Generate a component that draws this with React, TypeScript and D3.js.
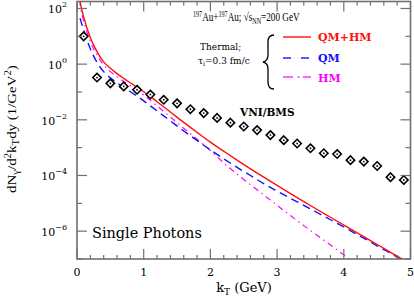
import React, { useLayoutEffect, useRef, useState } from "react";
import * as d3 from "d3";

// ---- data ----
const kRed = [0.04, 0.05, 0.1, 0.2, 0.3, 0.4, 0.5, 0.6, 0.7, 0.8, 0.9, 1.0, 1.2, 1.4, 1.6, 1.8, 2.0, 2.2, 2.4, 2.6, 2.8, 3.0, 3.2, 3.4, 3.6, 3.8, 4.0, 4.2, 4.4, 4.6, 4.8, 4.9];
const qmhm = [224, 158, 50, 8.9, 2.8, 1.2, 0.71, 0.457, 0.309, 0.214, 0.148, 0.102, 0.0447, 0.0191, 8.1e-3, 3.55e-3, 1.58e-3, 7.4e-4, 3.55e-4, 1.74e-4, 8.7e-5, 4.4e-5, 2.24e-5, 1.15e-5, 6.0e-6, 3.16e-6, 1.66e-6, 8.7e-7, 4.6e-7, 2.4e-7, 1.26e-7, 9.1e-8];

const kBlue = [0.045, 0.1, 0.2, 0.3, 0.4, 0.5, 0.6, 0.7, 0.8, 0.9, 1.0, 1.2, 1.4, 1.6, 1.8, 2.0, 2.2, 2.4, 2.6, 2.8, 3.0, 3.2, 3.4, 3.6, 3.8, 4.0, 4.2, 4.4, 4.6, 4.8, 4.9];
const qm = [45, 16.6, 3.55, 1.15, 0.54, 0.32, 0.214, 0.148, 0.102, 0.0708, 0.0479, 0.0209, 9.1e-3, 3.98e-3, 1.82e-3, 8.3e-4, 3.98e-4, 1.95e-4, 1.0e-4, 5.1e-5, 2.75e-5, 1.51e-5, 8.5e-6, 4.68e-6, 2.57e-6, 1.41e-6, 7.6e-7, 4.07e-7, 2.19e-7, 1.17e-7, 8.5e-8];

const kMag = [0.04, 0.05, 0.1, 0.2, 0.3, 0.4, 0.5, 0.6, 0.7, 0.8, 0.9, 1.0, 1.2, 1.4, 1.6, 1.8, 2.0, 2.2, 2.4, 2.6, 2.8, 3.0, 3.2, 3.4, 3.6, 3.8, 4.0, 4.2];
const hm = [200, 126, 35.5, 6.6, 2.09, 0.93, 0.54, 0.355, 0.24, 0.166, 0.115, 0.0776, 0.0316, 0.0126, 5.0e-3, 2.0e-3, 7.9e-4, 2.82e-4, 1.12e-4, 4.68e-5, 2.0e-5, 8.5e-6, 3.63e-6, 1.58e-6, 7.1e-7, 3.16e-7, 1.41e-7, 6.3e-8];

const kVni = [0.1, 0.3, 0.5, 0.7, 0.9, 1.1, 1.3, 1.5, 1.7, 1.9, 2.1, 2.3, 2.5, 2.7, 2.9, 3.1, 3.3, 3.5, 3.7, 3.9, 4.1, 4.3, 4.5, 4.7, 4.9];
const vni = [10, 0.33, 0.204, 0.158, 0.12, 0.081, 0.0525, 0.039, 0.024, 0.0174, 0.0117, 7.9e-3, 5.75e-3, 4.27e-3, 2.82e-3, 1.86e-3, 1.41e-3, 9.5e-4, 6.3e-4, 5.9e-4, 3.55e-4, 3.16e-4, 2.19e-4, 8.7e-5, 6.9e-5];
const vniErrLo = [null, null, null, null, null, null, null, null, null, null, null, null, null, null, null, null, null, null, null, null, null, null, null, 5.9e-5, 4.7e-5];
const vniErrHi = [null, null, null, null, null, null, null, null, null, null, null, null, null, null, null, null, null, null, null, null, null, null, null, 1.25e-4, 1.0e-4];

const xMajor = [0, 1, 2, 3, 4, 5];
const yExps = [-7, -6, -5, -4, -3, -2, -1, 0, 1, 2];
const yLabelExps = [2, 0, -2, -4, -6];

const W = 414, H = 298;
const L = 77, R = 410.5, T = 1.5, B = 259;
const serif = "DejaVu Serif";
const times = "Liberation Serif";

function FitText(props: { x: number; y: number; width: number; rotate?: number; fontSize: number; family?: string; children: React.ReactNode }) {
  const ref = useRef<SVGTextElement>(null);
  const [s, setS] = useState(1);
  useLayoutEffect(() => {
    if (ref.current) {
      const w = ref.current.getBBox().width;
      if (w > 0) setS(props.width / w);
    }
  }, [props.width]);
  return (
    <g transform={`translate(${props.x},${props.y}) rotate(${props.rotate || 0}) scale(${s},1)`}>
      <text ref={ref} x={0} y={0} fontFamily={props.family || serif} fontSize={props.fontSize}>
        {props.children}
      </text>
    </g>
  );
}

export default function App() {
  const x = d3.scaleLinear().domain([0, 5]).range([L, R]);
  const y = d3.scaleLog().domain([1e-7, Math.pow(10, 2.25)]).range([B, T]);

  const line = (ks: number[], vs: number[]) =>
    d3.line<number>().x((_, i) => x(ks[i])).y((v) => y(v)).curve(d3.curveMonotoneX)(vs) || "";

  const xMinor = d3.range(0, 5.001, 0.2).filter((v) => Math.abs(v - Math.round(v)) > 1e-6);
  const frame = "#707070";

  return (
    <svg width={W} height={H} style={{ position: "absolute", left: 0, top: 0, background: "#fff" }}>
      <defs>
        <clipPath id="plot">
          <rect x={L} y={T} width={R - L} height={B - T} />
        </clipPath>
      </defs>
      <g clipPath="url(#plot)" fill="none">
        <path d={line(kMag, hm)} stroke="#ff00ff" strokeWidth={1.2} strokeDasharray="6,4,1.5,4" />
        <path d={line(kBlue, qm)} stroke="#1010ff" strokeWidth={1.4} strokeDasharray="8,5" />
        <path d={line(kRed, qmhm)} stroke="#ff1010" strokeWidth={1.4} />
      </g>
      {/* VNI/BMS diamonds */}
      <g stroke="#000" fill="none">
        {kVni.map((k, i) => {
          const cx = x(k), cy = y(vni[i]);
          const s = 4.2;
          return (
            <g key={i}>
              {vniErrLo[i] != null && (
                <line x1={cx} x2={cx} y1={y(vniErrLo[i] as number)} y2={y(vniErrHi[i] as number)} strokeWidth={1.2} />
              )}
              <path d={`M${cx},${cy - s}L${cx + s},${cy}L${cx},${cy + s}L${cx - s},${cy}Z`} strokeWidth={1.6} fill="#fff" />
              <circle cx={cx} cy={cy} r={0.9} fill="#000" stroke="none" />
            </g>
          );
        })}
      </g>
      {/* frame */}
      <rect x={L} y={T} width={R - L} height={B - T} fill="none" stroke={frame} strokeWidth={1.6} />
      <g stroke={frame} strokeWidth={1.2}>
        {xMajor.map((v) => (
          <g key={"xM" + v}>
            <line x1={x(v)} x2={x(v)} y1={B} y2={B - 10} />
            <line x1={x(v)} x2={x(v)} y1={T} y2={T + 10} />
          </g>
        ))}
        {xMinor.map((v, i) => (
          <g key={"xm" + i}>
            <line x1={x(v)} x2={x(v)} y1={B} y2={B - 4} />
            <line x1={x(v)} x2={x(v)} y1={T} y2={T + 4} />
          </g>
        ))}
        {yExps.map((e) => {
          const len = e % 2 === 0 ? 10 : 5;
          const yy = y(Math.pow(10, e));
          return (
            <g key={"y" + e}>
              <line x1={L} x2={L + len} y1={yy} y2={yy} />
              <line x1={R} x2={R - len} y1={yy} y2={yy} />
            </g>
          );
        })}
      </g>
      {/* tick labels */}
      <g fontFamily={serif} fontSize={11} fill="#000">
        {xMajor.map((v) => (
          <text key={"xl" + v} x={x(v)} y={276} textAnchor="middle">{v}</text>
        ))}
        {yLabelExps.map((e) => (
          <text key={"yl" + e} x={67} y={y(Math.pow(10, e)) + 5} textAnchor="end">
            10<tspan dy={-6} fontSize={8}>{e < 0 ? "\u2212" + Math.abs(e) : e}</tspan>
          </text>
        ))}
      </g>
      {/* axis titles */}
      <text x={244} y={292} fontFamily={serif} fontSize={13} textAnchor="middle">
        k<tspan dy={3} fontSize={9}>T</tspan><tspan dy={-3}> (GeV)</tspan>
      </text>
      <FitText x={16} y={193} rotate={-90} width={128} fontSize={13} family={times}>
        dN<tspan dy={3} fontSize={9.5}>γ</tspan><tspan dy={-3}>/d</tspan><tspan dy={-5} fontSize={9.5}>2</tspan><tspan dy={5}>k</tspan><tspan dy={3} fontSize={9.5}>T</tspan><tspan dy={-3}>dy (1/GeV</tspan><tspan dy={-5} fontSize={9.5}>2</tspan><tspan dy={5}>)</tspan>
      </FitText>
      {/* annotations */}
      <FitText x={92} y={238} width={110} fontSize={14}>Single Photons</FitText>
      <FitText x={193} y={21} width={107} fontSize={12} family={times}>
        <tspan dy={-4} fontSize={8}>197</tspan><tspan dy={4}>Au+</tspan><tspan dy={-4} fontSize={8}>197</tspan><tspan dy={4}>Au; √s</tspan><tspan dy={3} fontSize={8}>NN</tspan><tspan dy={-3}>=200 GeV</tspan>
      </FitText>
      <text x={200} y={50} fontFamily={serif} fontSize={9}>Thermal;</text>
      <text x={198} y={64} fontFamily={serif} fontSize={9}>
        τ<tspan dy={2} fontSize={6.5}>i</tspan><tspan dy={-2}>=0.3 fm/c</tspan>
      </text>
      <path d="M274,35 Q268,35 268,42 L268,55 Q268,61 263,62 Q268,63 268,69 L268,82 Q268,89 274,89" fill="none" stroke="#000" strokeWidth={1.3} />
      <g fontFamily={serif} fontSize={11} fontWeight="bold">
        <line x1={283} x2={311} y1={37} y2={37} stroke="#ff1010" strokeWidth={1.4} />
        <text x={318} y={41} fill="#ff1010">QM+HM</text>
        <line x1={283} x2={291} y1={58} y2={58} stroke="#1010ff" strokeWidth={1.4} />
        <line x1={301} x2={309} y1={58} y2={58} stroke="#1010ff" strokeWidth={1.4} />
        <text x={318} y={62} fill="#1010ff">QM</text>
        <line x1={283} x2={293} y1={77} y2={77} stroke="#ff00ff" strokeWidth={1.2} />
        <line x1={297.5} x2={299.5} y1={77} y2={77} stroke="#ff00ff" strokeWidth={1.2} />
        <line x1={303} x2={311} y1={77} y2={77} stroke="#ff00ff" strokeWidth={1.2} />
        <text x={318} y={82} fill="#ff00ff">HM</text>
        <text x={240} y={116} fill="#000" fontSize={10.5}>VNI/BMS</text>
      </g>
    </svg>
  );
}
